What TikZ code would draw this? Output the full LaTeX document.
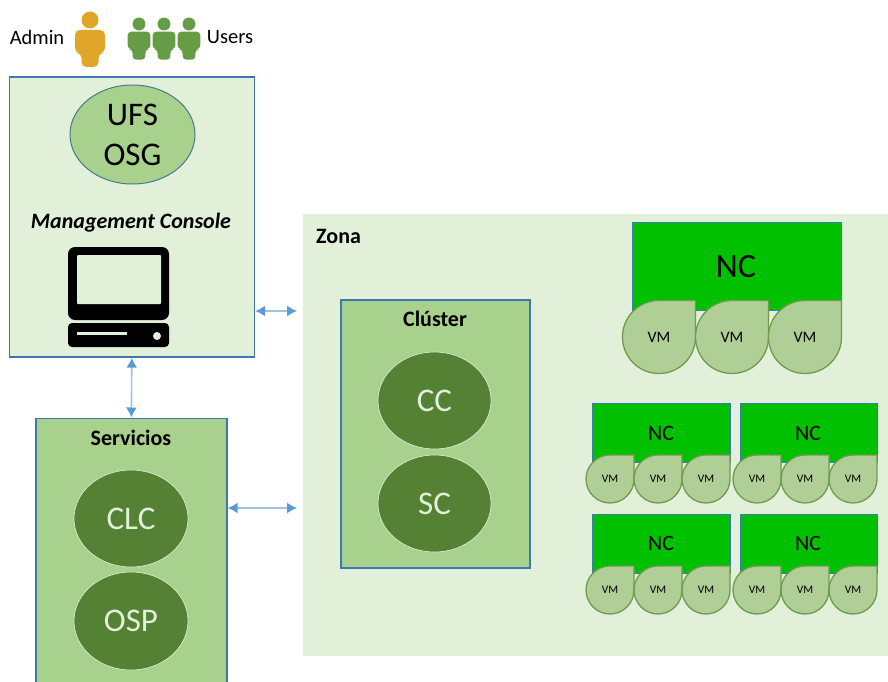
\documentclass[tikz,border=0pt]{standalone}
\usepackage{fontspec}
\setmainfont{Carlito}
\usetikzlibrary{arrows.meta, shapes.geometric}

\definecolor{palegreen}{HTML}{E2F0D9}
\definecolor{midgreen}{HTML}{A9D18E}
\definecolor{darkgreen}{HTML}{558135}
\definecolor{ncgreen}{HTML}{00C000}
\definecolor{vmgreen}{HTML}{AFCF96}
\definecolor{vmline}{HTML}{6F9A50}
\definecolor{boxblue}{HTML}{3F78B0}
\definecolor{linkblue}{HTML}{5B9BD5}
\definecolor{adminorange}{HTML}{DFA62A}
\definecolor{usergreen}{HTML}{669C45}

\tikzset{
box/.style={draw=boxblue, line width=1.7pt, inner sep=0pt, anchor=north west},
ncbox/.style={fill=ncgreen, draw=boxblue, line width=1pt, inner sep=0pt, anchor=north west},
darkoval/.style={ellipse, fill=darkgreen, draw=palegreen, line width=.6pt, text=palegreen, inner sep=0pt, font=\fontsize{33}{33}\selectfont},
link/.style={{Latex[length=10pt, width=11pt, linkblue]}-{Latex[length=10pt, width=11pt, linkblue]}, linkblue!60, line width=1.6pt},
label/.style={font=\fontsize{20.5}{20.5}\selectfont, inner sep=0pt},
heading/.style={font=\fontsize{22}{22}\selectfont\bfseries, inner sep=0pt}
}

% x, y, radius, font size, name
\newcommand{\vmdrop}[5]{
\draw[fill=vmgreen, draw=vmline, line width=1.3pt] ({#1+#3},{#2-#3}) -- ({#1+#3},#2) arc[start angle=0, end angle=-270, radius=#3pt] -- cycle;
\node[inner sep=0pt, font=\fontsize{#4}{#4}\selectfont] (#5) at (#1,#2) {VM};
}

% x, y, size, colour
\newcommand{\person}[4]{
\begin{scope}[shift={(#1,#2)}, x=#3pt, y=-#3pt]
\fill[#4] (0,0) circle[radius=#3*8.5pt];
\fill[#4, rounded corners=#3*5pt] (-15,10) -- (15,10) -- (15,33) -- (8.5,33) -- (8.5,47) -- (-8.5,47) -- (-8.5,33) -- (-15,33) -- cycle;
\end{scope}
}

\begin{document}
\begin{tikzpicture}[x=1pt, y=-1pt]

\useasboundingbox (0,0) rectangle (888,682);
\clip (0,0) rectangle (888,682);

\node[label] (admin) at (37,37) {Admin};
\person{90}{20}{1}{adminorange}
\person{139}{24}{.76}{usergreen}
\person{164}{24}{.76}{usergreen}
\person{189}{24}{.76}{usergreen}
\node[label] (users) at (230,37) {Users};

\node[box, fill=palegreen, minimum width=245pt, minimum height=280pt] (console) at (8.5,76) {};
\node[ellipse, fill=midgreen, draw=boxblue!70!darkgreen, line width=1pt, minimum width=125pt, minimum height=99pt, inner sep=0pt, align=center, font=\fontsize{33}{40}\selectfont] (ufs) at (132.5,134.5) {UFS\\OSG};
\node[inner sep=0pt, font=\fontsize{22}{22}\selectfont\bfseries\itshape] (mgmt) at (131,223) {Management Console};

% computer
\fill[black, rounded corners=7pt] (68,247) rectangle (169,320);
\fill[palegreen, rounded corners=1pt] (77,255) rectangle (161,304);
\fill[black, rounded corners=4pt] (68,323) rectangle (169,347);
\fill[palegreen] (77,332) rectangle (127,335);
\fill[palegreen] (157,336) circle[radius=4pt];

\node[box, fill=midgreen, minimum width=191pt, minimum height=290pt] (servicios) at (35,417.5) {};
\node[heading] (serviciostitle) at (131,438) {Servicios};
\node[darkoval, minimum width=114pt, minimum height=97pt] (clc) at (131,518.5) {CLC};
\node[darkoval, minimum width=114pt, minimum height=98pt] (osp) at (131,621) {OSP};

\node[anchor=north west, fill=palegreen, minimum width=585pt, minimum height=442pt, inner sep=0pt] (zona) at (303,214) {};
\node[heading, anchor=west] (zonatitle) at (316,236) {Zona};

\node[box, fill=midgreen, minimum width=189pt, minimum height=268pt] (cluster) at (340,299) {};
\node[heading] (clustertitle) at (435,319) {Clúster};
\node[darkoval, minimum width=113pt, minimum height=97pt] (cc) at (434.5,400.5) {CC};
\node[darkoval, minimum width=113pt, minimum height=97pt] (sc) at (434.5,503.5) {SC};

\coordinate (linka) at (297,311);
\coordinate (linkb) at (297,508);
\draw[link] (console.east |- linka) -- (linka);
\draw[link] (servicios.east |- linkb) -- (linkb);
\draw[link] (console.south) -- (servicios.north);

% big NC
\node[ncbox, minimum width=209pt, minimum height=88pt] (ncmain) at (632,222) {};
\node[inner sep=0pt, font=\fontsize{34}{34}\selectfont] (ncmaintext) at (736,267) {NC};
\vmdrop{659}{337}{36.5}{16}{vma}
\vmdrop{732}{337}{36.5}{16}{vmb}
\vmdrop{805}{337}{36.5}{16}{vmc}

% small NC
\node[ncbox, minimum width=138pt, minimum height=59pt] (nca) at (592,403) {};
\node[inner sep=0pt, font=\fontsize{22}{22}\selectfont] (ncatext) at (661,433) {NC};
\vmdrop{610}{479}{24}{11.5}{vmaa}
\vmdrop{658}{479}{24}{11.5}{vmab}
\vmdrop{706}{479}{24}{11.5}{vmac}

\node[ncbox, minimum width=137pt, minimum height=59pt] (ncb) at (740,403) {};
\node[inner sep=0pt, font=\fontsize{22}{22}\selectfont] (ncbtext) at (808,433) {NC};
\vmdrop{757}{479}{24}{11.5}{vmba}
\vmdrop{805}{479}{24}{11.5}{vmbb}
\vmdrop{853}{479}{24}{11.5}{vmbc}

\node[ncbox, minimum width=138pt, minimum height=59pt] (ncc) at (592,514) {};
\node[inner sep=0pt, font=\fontsize{22}{22}\selectfont] (ncctext) at (661,543) {NC};
\vmdrop{610}{590}{24}{11.5}{vmca}
\vmdrop{658}{590}{24}{11.5}{vmcb}
\vmdrop{706}{590}{24}{11.5}{vmcc}

\node[ncbox, minimum width=137pt, minimum height=59pt] (ncd) at (740,514) {};
\node[inner sep=0pt, font=\fontsize{22}{22}\selectfont] (ncdtext) at (808,543) {NC};
\vmdrop{757}{590}{24}{11.5}{vmda}
\vmdrop{805}{590}{24}{11.5}{vmdb}
\vmdrop{853}{590}{24}{11.5}{vmdc}

\end{tikzpicture}
\end{document}
